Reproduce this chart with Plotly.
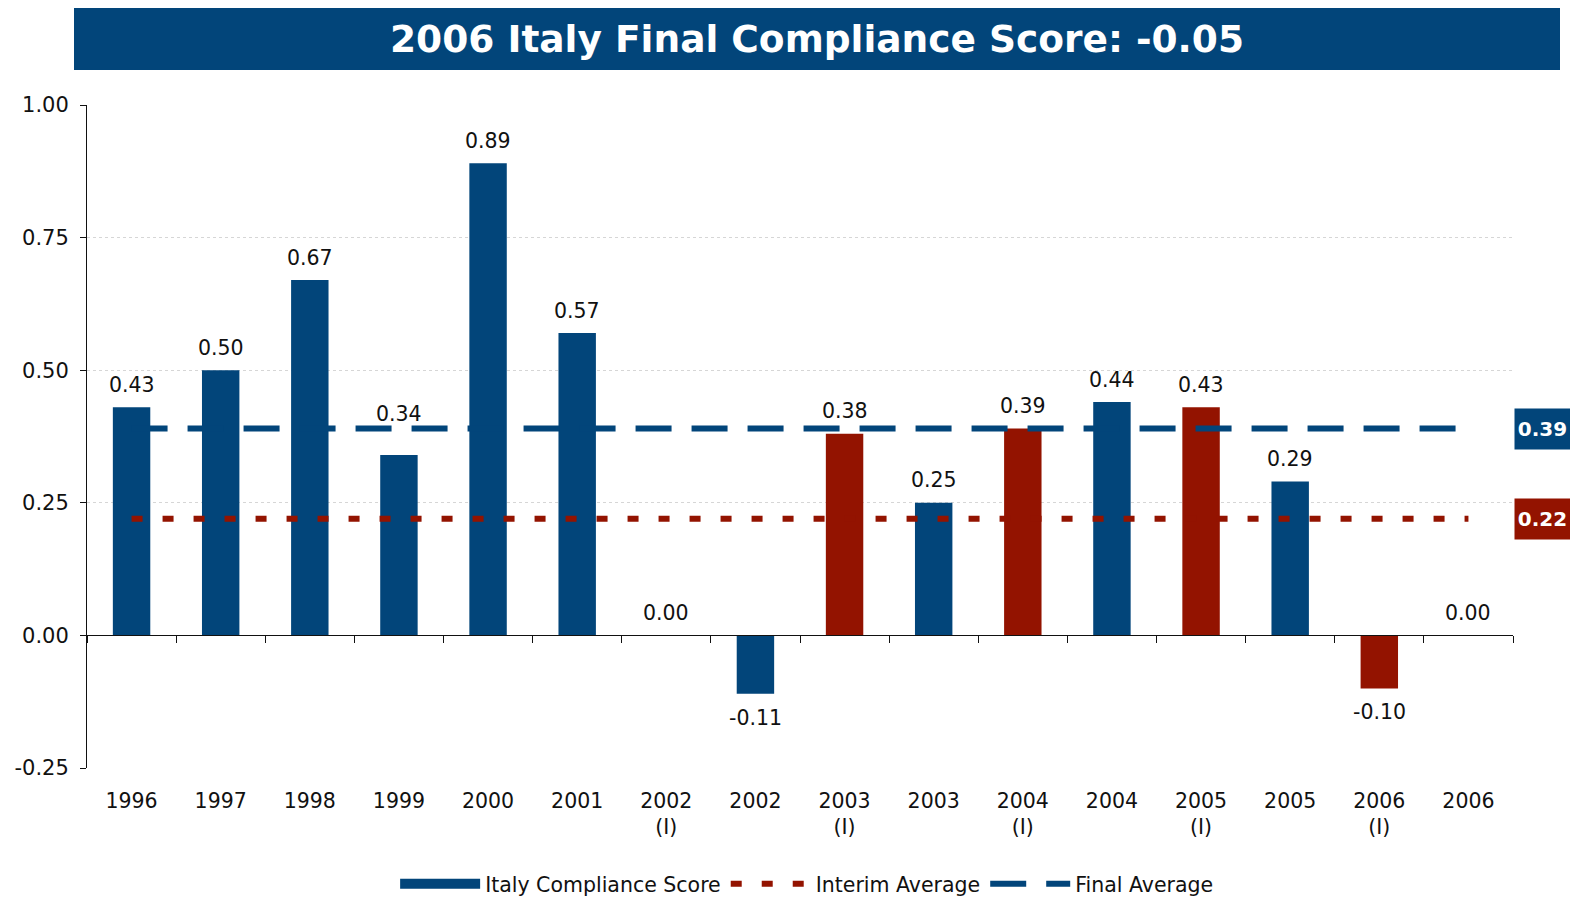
import plotly.graph_objects as go

categories = ["1996", "1997", "1998", "1999", "2000", "2001", "2002<br>(I)", "2002",
              "2003<br>(I)", "2003", "2004<br>(I)", "2004", "2005<br>(I)", "2005",
              "2006<br>(I)", "2006"]
scores = [0.43, 0.50, 0.67, 0.34, 0.89, 0.57, 0.00, -0.11, 0.38, 0.25, 0.39, 0.44, 0.43, 0.29, -0.10, 0.00]
is_interim = [False, False, False, False, False, False, True, False, True, False, True, False, True, False, True, False]
interim_avg = 0.22
final_avg = 0.39
y_ticks = [-0.25, 0.0, 0.25, 0.50, 0.75, 1.00]
title_text = "2006 Italy Final Compliance Score: -0.05"

# extra lift (px) for labels that would collide with the average line
label_lift = {"1999": 19}

BLUE = "#02457A"
RED = "#931300"
FONT = "DejaVu Sans"

colors = [RED if i else BLUE for i in is_interim]

fig = go.Figure()
fig.add_trace(go.Bar(
    x=categories, y=scores, name="Italy Compliance Score",
    marker=dict(color=colors, line=dict(width=0)),
    width=0.42, showlegend=False, hoverinfo="x+y",
))
# legend entry styled as a wide bar swatch
fig.add_trace(go.Scatter(
    x=[None], y=[None], mode="lines", name="Italy Compliance Score",
    line=dict(color=BLUE, width=15),
))
fig.add_trace(go.Scatter(
    x=categories, y=[interim_avg] * len(categories), mode="lines",
    name="Interim Average", line=dict(color=RED, width=6, dash="11px,20px"),
    hoverinfo="skip",
))
fig.add_trace(go.Scatter(
    x=categories, y=[final_avg] * len(categories), mode="lines",
    name="Final Average", line=dict(color=BLUE, width=6, dash="36px,20px"),
    xaxis="x2", hoverinfo="skip",
))

# value labels (category axis: annotations addressed by category index)
for i, (c, v) in enumerate(zip(categories, scores)):
    neg = v < 0
    fig.add_annotation(x=i, y=v, xref="x", yref="y", text=f"{v:.2f}", showarrow=False,
                       xanchor="center", yanchor="top" if neg else "bottom",
                       yshift=-10 if neg else 8.5 + label_lift.get(c, 0),
                       font=dict(family=FONT, size=20.5, color="#111"))

ymin, ymax = -0.25, 1.0
zero_pos = (0 - ymin) / (ymax - ymin)

fig.update_layout(
    width=1570, height=899,
    margin=dict(l=87, r=57, t=105, b=131, autoexpand=False),
    paper_bgcolor="white", plot_bgcolor="white",
    font=dict(family=FONT, size=20, color="#111"),
    showlegend=True,
    legend=dict(orientation="h", x=0.505, xanchor="center", y=(768 - 884) / 663,
                yanchor="middle",
                font=dict(family=FONT, size=20.5, color="#111"), itemwidth=80,
                tracegroupgap=0),
    xaxis=dict(type="category", range=[-0.5, len(categories) - 0.5], showline=False,
               ticks="", showgrid=False, zeroline=False, ticklabelstandoff=18,
               automargin=False,
               tickfont=dict(family=FONT, size=20.5, color="#111")),
    xaxis2=dict(type="category", matches="x", overlaying="x", anchor="free",
                position=zero_pos, showticklabels=False, ticks="outside",
                tickson="boundaries", ticklen=7, tickcolor="#111", showline=True,
                linecolor="#111", linewidth=1, showgrid=False, zeroline=False,
                automargin=False),
    yaxis=dict(range=[ymin, ymax], tickvals=y_ticks,
               ticktext=[f"{t:.2f}" for t in y_ticks], showline=True,
               linecolor="#111", linewidth=1, automargin=False,
               ticks="outside", ticklen=6, tickcolor="#111", ticklabelstandoff=7,
               showgrid=True, gridcolor="#d6d6d6", gridwidth=1, griddash="dot",
               zeroline=False, tickfont=dict(family=FONT, size=21, color="#111")),
)

# title banner
fig.add_shape(type="rect", xref="paper", yref="paper",
              x0=(74 - 87) / 1426, x1=(1560 - 87) / 1426,
              y0=(768 - 70) / 663, y1=(768 - 8) / 663,
              fillcolor=BLUE, line=dict(width=0), layer="below")
fig.add_annotation(text=f"<b>{title_text}</b>", xref="paper", yref="paper",
                   x=(817 - 87) / 1426, y=(768 - 39) / 663, xanchor="center", yanchor="middle",
                   showarrow=False, font=dict(family=FONT, size=37.5, color="white"))

# average value labels on the right
for val, col in [(final_avg, BLUE), (interim_avg, RED)]:
    fig.add_annotation(text=f"<b>{val:.2f}</b>", xref="paper", yref="y",
                       x=(1514 - 87) / 1426, y=val, xanchor="left", yanchor="middle",
                       showarrow=False, bgcolor=col, borderpad=0,
                       width=55, height=40, align="center",
                       font=dict(family=FONT, size=20, color="white"))

fig.write_html("out.html", config={"displayModeBar": False},
               post_script="document.body.style.margin='0';document.body.style.padding='0';")
